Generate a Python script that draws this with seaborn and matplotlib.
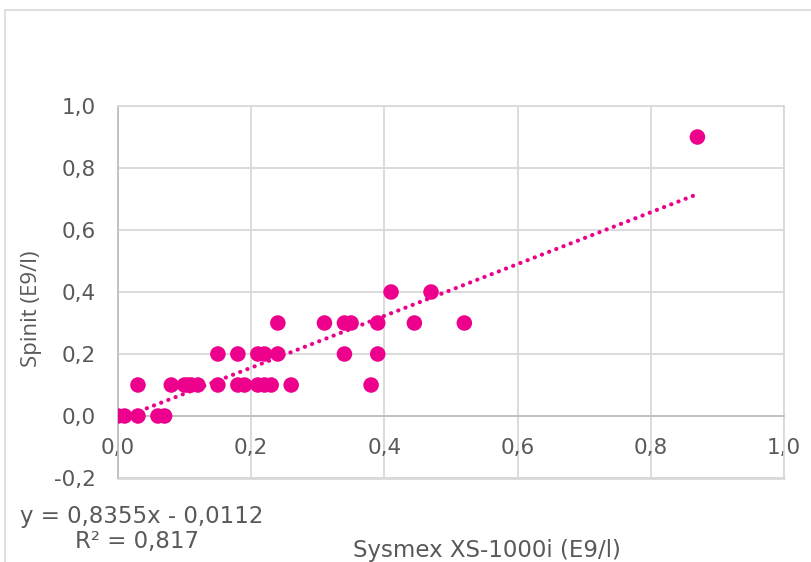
import matplotlib
matplotlib.use("Agg")
import matplotlib.pyplot as plt
from matplotlib.patches import Rectangle
import seaborn as sns
import pandas as pd

# Paired measurements (E9/l)
sysmex = [0.00, 0.01, 0.03, 0.06, 0.07,
          0.03, 0.08, 0.10, 0.105, 0.11, 0.12, 0.15, 0.18, 0.19, 0.21, 0.22, 0.23, 0.26, 0.38,
          0.15, 0.18, 0.21, 0.22, 0.24, 0.34, 0.39,
          0.24, 0.31, 0.34, 0.35, 0.39, 0.445, 0.52,
          0.41, 0.47,
          0.87]
spinit = [0.0, 0.0, 0.0, 0.0, 0.0,
          0.1, 0.1, 0.1, 0.1, 0.1, 0.1, 0.1, 0.1, 0.1, 0.1, 0.1, 0.1, 0.1, 0.1,
          0.2, 0.2, 0.2, 0.2, 0.2, 0.2, 0.2,
          0.3, 0.3, 0.3, 0.3, 0.3, 0.3, 0.3,
          0.4, 0.4,
          0.9]

# Linear trend line
slope = 0.8355
intercept = -0.0112
r_squared = 0.817

x_ticks = [0.0, 0.2, 0.4, 0.6, 0.8, 1.0]
y_ticks = [-0.2, 0.0, 0.2, 0.4, 0.6, 0.8, 1.0]
x_tick_labels = ["0,0", "0,2", "0,4", "0,6", "0,8", "1,0"]
y_tick_labels = ["-0,2", "0,0", "0,2", "0,4", "0,6", "0,8", "1,0"]

df = pd.DataFrame({"Sysmex": sysmex, "Spinit": spinit})
trend_x = [min(sysmex), max(sysmex)]
trend = pd.DataFrame({"x": trend_x, "y": [slope * v + intercept for v in trend_x]})

sns.set_theme(style="white")
plt.rcParams["font.family"] = ["DejaVu Sans"]

PINK = "#EC008C"
TEXT = "#595959"
GRID = "#d9d9d9"
AXIS = "#bfbfbf"
FS = 16.5
TICK_FS = 15.5

W, H = 811, 562
fig = plt.figure(figsize=(W / 100, H / 100), dpi=100)
ax = fig.add_axes([118 / W, (H - 478) / H, 666 / W, 372 / H])

# outer chart frame
fig.patches.append(Rectangle((5 / W, -0.5), 2.0, 1.5 - 10 / H, transform=fig.transFigure,
                             fill=False, edgecolor=GRID, linewidth=1.2, zorder=0))

sns.lineplot(data=trend, x="x", y="y", ax=ax, color=PINK, linewidth=3.0,
             linestyle=(0, (0.05, 1.8)), dash_capstyle="round", zorder=2)
sns.scatterplot(data=df, x="Sysmex", y="Spinit", ax=ax, color=PINK, s=125,
                edgecolor="none", linewidth=0, zorder=3)

ax.set_xlim(0, 1.0)
ax.set_ylim(-0.2, 1.0)
ax.set_xticks(x_ticks)
ax.set_yticks(y_ticks)
ax.set_xticklabels(x_tick_labels)
ax.set_yticklabels(y_tick_labels)
ax.tick_params(axis="both", length=0, labelsize=TICK_FS, colors=TEXT)
ax.tick_params(axis="x", pad=15.5)
ax.tick_params(axis="y", pad=16)
ax.grid(True, color=GRID, linewidth=1.3)
ax.set_axisbelow(True)

ax.spines["bottom"].set_position(("data", 0))
ax.spines["bottom"].set_color(AXIS)
ax.spines["bottom"].set_linewidth(1.3)
ax.spines["left"].set_color(AXIS)
ax.spines["left"].set_linewidth(1.3)
for side in ("top", "right"):
    ax.spines[side].set_color(GRID)
    ax.spines[side].set_linewidth(1.3)
ax.axhline(-0.2, color=GRID, linewidth=2.0, zorder=1, clip_on=False)
ax.set_xlabel("")
ax.set_ylabel("")

fig.text(31 / W, 1 - 309 / H, "Spinit (E9/l)", rotation=90, ha="center", va="center",
         fontsize=16, color=TEXT, family=["Open Sans", "DejaVu Sans"])
fig.text(487 / W, 1 - 557 / H, "Sysmex XS-1000i (E9/l)", ha="center", va="baseline",
         fontsize=FS, color=TEXT)
fig.text(142 / W, 1 - 523 / H, f"y = {slope:.4f}x - {abs(intercept):.4f}".replace(".", ","),
         ha="center", va="baseline", fontsize=FS, color=TEXT)
fig.text(137 / W, 1 - 548 / H, f"R² = {r_squared:.3f}".replace(".", ","),
         ha="center", va="baseline", fontsize=FS, color=TEXT)

fig.savefig("out.png", dpi=100)
